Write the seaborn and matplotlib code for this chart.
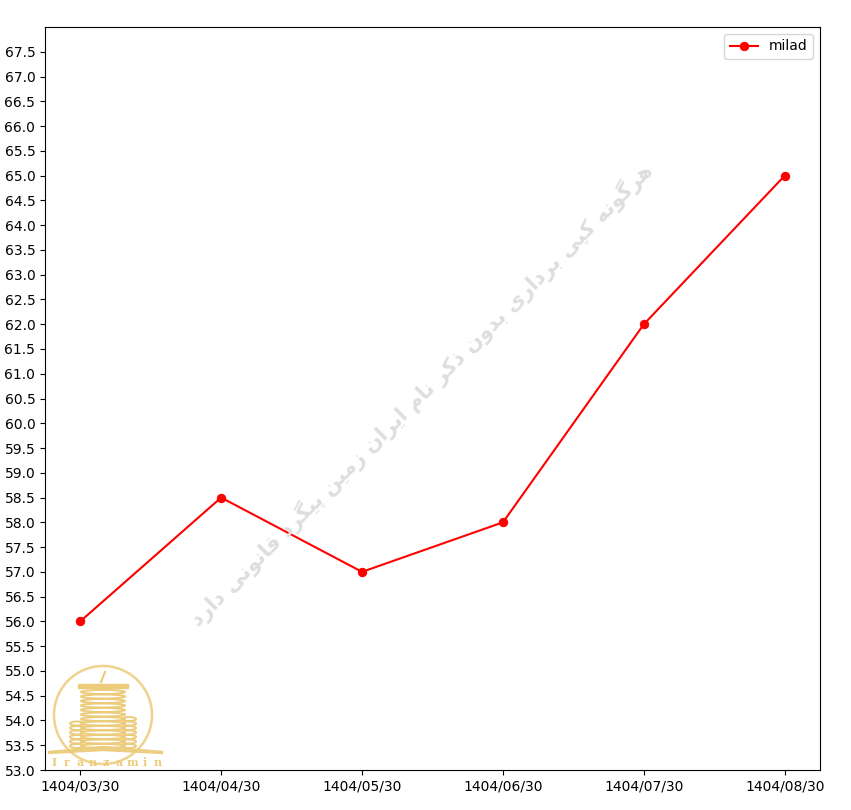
import numpy as np
import pandas as pd
import matplotlib
matplotlib.use("Agg")
import matplotlib.pyplot as plt
import seaborn as sns
from matplotlib.patches import Circle, Ellipse, Rectangle

dates = ["1404/03/30", "1404/04/30", "1404/05/30", "1404/06/30", "1404/07/30", "1404/08/30"]
milad = [56.0, 58.5, 57.0, 58.0, 62.0, 65.0]
series_name = "milad"
watermark = "هرگونه کپی برداری بدون ذکر نام ایران زمین پیگرد قانونی دارد"
logo_text = "Iranzamin"

# (isolated, final, initial, medial)
FORMS = {
    "ا": ("\uFE8D", "\uFE8E"), "د": ("\uFEA9", "\uFEAA"), "ذ": ("\uFEAB", "\uFEAC"),
    "ر": ("\uFEAD", "\uFEAE"), "ز": ("\uFEAF", "\uFEB0"), "و": ("\uFEED", "\uFEEE"),
    "ب": ("\uFE8F", "\uFE90", "\uFE91", "\uFE92"), "پ": ("\uFB56", "\uFB57", "\uFB58", "\uFB59"),
    "ق": ("\uFED5", "\uFED6", "\uFED7", "\uFED8"), "ک": ("\uFB8E", "\uFB8F", "\uFB90", "\uFB91"),
    "گ": ("\uFB92", "\uFB93", "\uFB94", "\uFB95"), "م": ("\uFEE1", "\uFEE2", "\uFEE3", "\uFEE4"),
    "ن": ("\uFEE5", "\uFEE6", "\uFEE7", "\uFEE8"), "ه": ("\uFEE9", "\uFEEA", "\uFEEB", "\uFEEC"),
    "ی": ("\uFBFC", "\uFBFD", "\uFBFE", "\uFBFF"),
}


def shape(text):
    # matplotlib has no arabic shaping, so pick presentation forms and reverse
    out = []
    for i, ch in enumerate(text):
        if ch not in FORMS:
            out.append(ch)
            continue
        prev = text[i - 1] if i > 0 else " "
        nxt = text[i + 1] if i + 1 < len(text) else " "
        joins_prev = prev in FORMS and len(FORMS[prev]) == 4
        joins_next = len(FORMS[ch]) == 4 and nxt in FORMS
        f = FORMS[ch]
        if joins_prev and joins_next:
            out.append(f[3])
        elif joins_prev:
            out.append(f[1])
        elif joins_next:
            out.append(f[2])
        else:
            out.append(f[0])
    return "".join(out)[::-1]


df = pd.DataFrame({"date": dates, "value": milad})

fig = plt.figure(figsize=(8.51, 8.10), dpi=100)
ax = fig.add_axes([45 / 851, 1 - 770 / 810, 775 / 851, 743 / 810])
sns.lineplot(data=df, x="date", y="value", marker="o", color="red", label=series_name,
             sort=False, markeredgecolor="red", markersize=6, linewidth=1.5, ax=ax)
ax.set_ylim(53.0, 68.0)
ax.set_yticks(np.arange(53.0, 68.0, 0.5))
ax.set_yticklabels([f"{v:.1f}" for v in np.arange(53.0, 68.0, 0.5)])
ax.set_xlabel("")
ax.set_ylabel("")
ax.legend(loc="upper right")

# watermark
fig.text(421 / 851, 1 - 395 / 810, shape(watermark), rotation=45, fontsize=15,
         fontweight="bold", color="#dedede", ha="center", va="center",
         family=["DejaVu Sans"], zorder=0)

# logo
gold = "#eccb7a"
lax = fig.add_axes([48 / 851, 1 - 768 / 810, 116 / 851, 106 / 810])
lax.set_xlim(0, 116)
lax.set_ylim(0, 106)
lax.axis("off")
lax.add_patch(Circle((55, 53), 49, fill=False, edgecolor=gold, lw=1.8, alpha=0.85))
for x0, w, y0, y1 in [(22, 14, 22, 48), (74, 14, 22, 50), (33, 44, 22, 80)]:
    for y in np.arange(y0, y1, 4.5):
        lax.add_patch(Ellipse((x0 + w / 2, y), w, 4, fill=False, edgecolor=gold, lw=1.4))
lax.add_patch(Rectangle((30, 80), 50, 4, color=gold))
lax.plot([53, 57], [86, 96], color=gold, lw=1.5)
lax.fill_between([0, 55, 114], [17, 22, 17], [15, 18, 15], color=gold, alpha=0.9)
for i, ch in enumerate(logo_text):
    lax.text(6 + i * 13, 5, ch, ha="center", va="center", fontsize=8, color=gold,
             family="DejaVu Serif", fontweight="bold")

fig.savefig("out.png", dpi=100)
